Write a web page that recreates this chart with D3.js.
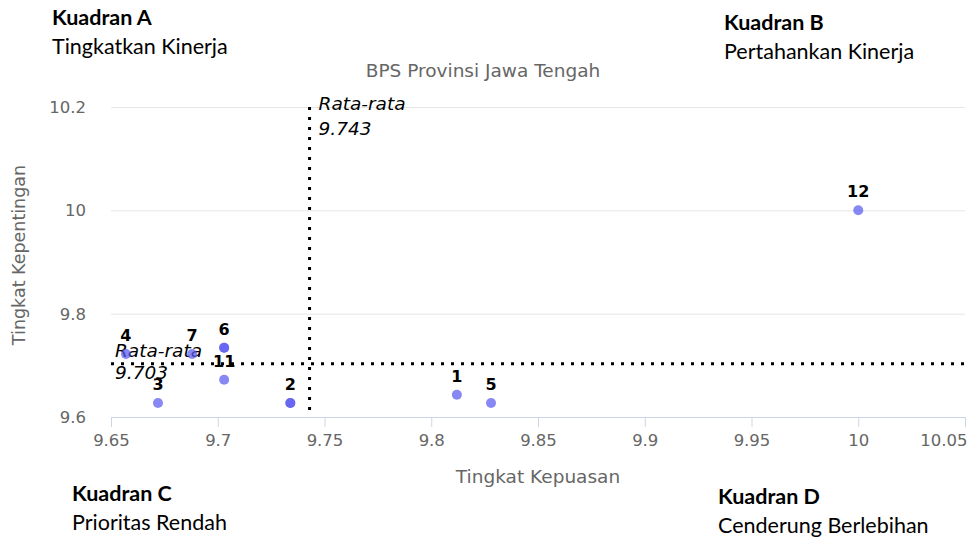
<!DOCTYPE html>
<html>

<head>
    <script src="https://cdn.jsdelivr.net/npm/d3@7"></script>
    <style>
        body {
            margin: 0;
            background: #fff;
        }

        .quad {
            font-family: Lato, "Open Sans", sans-serif;
            font-size: 21.5px;
            fill: #000;
        }

        .quad-title {
            font-weight: bold;
        }

        .hc {
            font-family: "DejaVu Sans", Verdana, sans-serif;
            fill: #666;
        }

        .avg-label {
            font-family: "DejaVu Sans", sans-serif;
            font-style: italic;
            font-size: 18.5px;
            fill: #000;
        }

        .point-label {
            font-family: "DejaVu Sans", sans-serif;
            font-weight: bold;
            font-size: 16px;
            fill: #000;
        }
    </style>
</head>

<body>
    <svg id="chart" width="969" height="539"></svg>

    <script>
        // kepuasan (x), kepentingan (y) per atribut
        var labels = ["1", "2", "3", "4", "5", "6", "7", "8", "9", "11", "12"];
        var kepuasan = [9.812, 9.734, 9.672, 9.657, 9.828, 9.703, 9.688, 9.734, 9.703, 9.703, 10];
        var kepentingan = [9.643, 9.627, 9.627, 9.722, 9.627, 9.734, 9.722, 9.627, 9.734, 9.672, 10];

        var avgX = 9.743;
        var avgY = 9.703;

        var xTicks = [9.65, 9.7, 9.75, 9.8, 9.85, 9.9, 9.95, 10, 10.05];
        var yTicks = [9.6, 9.8, 10, 10.2];

        var quadrants = [
            { name: "Kuadran A", desc: "Tingkatkan Kinerja", x: 52, y: 25 },
            { name: "Kuadran B", desc: "Pertahankan Kinerja", x: 724, y: 30 },
            { name: "Kuadran C", desc: "Prioritas Rendah", x: 72, y: 501 },
            { name: "Kuadran D", desc: "Cenderung Berlebihan", x: 718, y: 504 }
        ];

        var svg = d3.select("#chart");

        var plotLeft = 111, plotRight = 965, plotTop = 107, plotBottom = 417;

        var x = d3.scaleLinear().domain([9.65, 10.05]).range([plotLeft, plotRight]);
        var y = d3.scaleLinear().domain([9.6, 10.2]).range([plotBottom, plotTop]);

        // grid lines
        svg.selectAll(".grid")
            .data(yTicks.slice(1))
            .enter().append("line")
            .attr("class", "grid")
            .attr("x1", plotLeft)
            .attr("x2", plotRight)
            .attr("y1", function (d) { return y(d) + 0.5; })
            .attr("y2", function (d) { return y(d) + 0.5; })
            .attr("stroke", "#e6e6e6")
            .attr("stroke-width", 1);

        // y tick labels
        svg.selectAll(".ylab")
            .data(yTicks)
            .enter().append("text")
            .attr("class", "hc ylab")
            .attr("x", 86)
            .attr("y", function (d) { return y(d) + 6; })
            .attr("text-anchor", "end")
            .attr("font-size", 16.5)
            .text(function (d) { return d; });

        // x axis
        var xAxis = d3.axisBottom(x)
            .tickValues(xTicks)
            .tickSize(10)
            .tickFormat(function (d) { return d; });

        var gx = svg.append("g")
            .attr("transform", "translate(0," + plotBottom + ")")
            .call(xAxis);

        gx.select(".domain")
            .attr("stroke", "#ccd6eb")
            .attr("d", "M" + plotLeft + ",0.5H" + plotRight);
        gx.selectAll(".tick line").attr("stroke", "#ccd6eb");
        gx.selectAll(".tick text")
            .attr("class", "hc")
            .attr("font-size", 16.5)
            .attr("font-family", "DejaVu Sans")
            .attr("dy", null)
            .attr("y", 29);

        // last label is pulled inside, like the reference
        gx.selectAll(".tick text")
            .filter(function (d) { return d === xTicks[xTicks.length - 1]; })
            .attr("text-anchor", "end")
            .attr("x", 2);

        // titles
        svg.append("text")
            .attr("class", "hc")
            .attr("x", 483)
            .attr("y", 77)
            .attr("text-anchor", "middle")
            .attr("font-size", 18.5)
            .text("BPS Provinsi Jawa Tengah");

        svg.append("text")
            .attr("class", "hc")
            .attr("x", (plotLeft + plotRight) / 2)
            .attr("y", 483)
            .attr("text-anchor", "middle")
            .attr("font-size", 18.5)
            .text("Tingkat Kepuasan");

        svg.append("text")
            .attr("class", "hc")
            .attr("transform", "translate(25,255) rotate(-90)")
            .attr("text-anchor", "middle")
            .attr("font-size", 17.5)
            .text("Tingkat Kepentingan");

        // average lines
        svg.append("line")
            .attr("x1", x(avgX))
            .attr("x2", x(avgX))
            .attr("y1", plotTop)
            .attr("y2", plotBottom)
            .attr("stroke", "#000")
            .attr("stroke-width", 3)
            .attr("stroke-dasharray", "3,7");

        svg.append("line")
            .attr("x1", plotLeft)
            .attr("x2", plotRight)
            .attr("y1", y(avgY))
            .attr("y2", y(avgY))
            .attr("stroke", "#000")
            .attr("stroke-width", 3)
            .attr("stroke-dasharray", "3,7");

        var vLab = svg.append("text")
            .attr("class", "avg-label")
            .attr("x", x(avgX) + 9)
            .attr("y", plotTop + 3);
        vLab.append("tspan").text("Rata-rata");
        vLab.append("tspan").attr("x", x(avgX) + 9).attr("dy", 25).text(avgX.toFixed(3));

        var hLab = svg.append("text")
            .attr("class", "avg-label")
            .attr("x", plotLeft + 4)
            .attr("y", y(avgY) - 7);
        hLab.append("tspan").text("Rata-rata");
        hLab.append("tspan").attr("x", plotLeft + 4).attr("dy", 22).text(avgY.toFixed(3));

        // points
        var points = labels.map(function (l, i) {
            return { label: l, x: kepuasan[i], y: kepentingan[i] };
        });

        svg.selectAll(".dot")
            .data(points)
            .enter().append("circle")
            .attr("class", "dot")
            .attr("cx", function (d) { return x(d.x); })
            .attr("cy", function (d) { return y(d.y); })
            .attr("r", 5)
            .attr("fill", "rgb(90,90,240)")
            .attr("fill-opacity", 0.72);

        // labels, skip ones that sit on top of an earlier label
        var shown = [];
        points.forEach(function (d) {
            var px = x(d.x), py = y(d.y);
            var clash = shown.some(function (s) {
                return Math.abs(s[0] - px) < 8 && Math.abs(s[1] - py) < 8;
            });
            if (clash) return;
            shown.push([px, py]);
            svg.append("text")
                .attr("class", "point-label")
                .attr("x", px)
                .attr("y", py - 13)
                .attr("text-anchor", "middle")
                .text(d.label);
        });

        // quadrant captions
        quadrants.forEach(function (q) {
            var t = svg.append("text").attr("class", "quad").attr("x", q.x).attr("y", q.y);
            t.append("tspan").attr("class", "quad-title").text(q.name);
            t.append("tspan").attr("x", q.x).attr("dy", 29).text(q.desc);
        });
    </script>
</body>

</html>
